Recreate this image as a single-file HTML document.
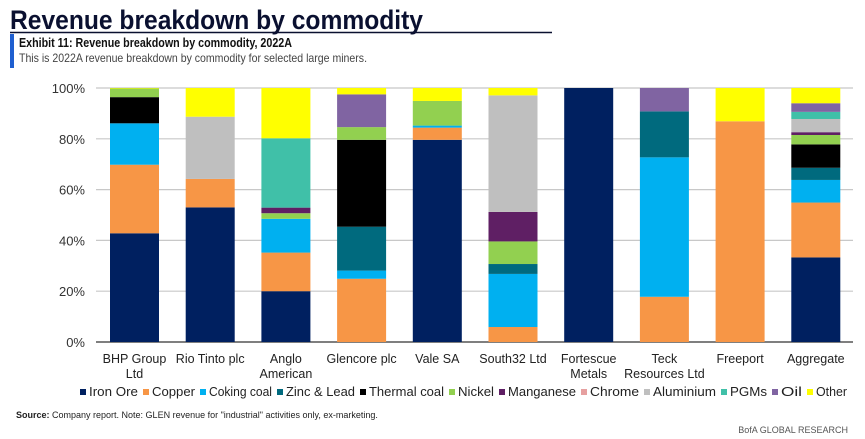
<!DOCTYPE html>
<html><head><meta charset="utf-8"><style>
body{margin:0;background:#fff;}
svg{display:block;font-family:"Liberation Sans",sans-serif;}
</style></head><body>
<svg id="c" width="865" height="439" viewBox="0 0 865 439">
<text x="10" y="29" font-size="27" font-weight="bold" fill="#0a1030" textLength="413" lengthAdjust="spacingAndGlyphs">Revenue breakdown by commodity</text>
<line x1="10" y1="32.5" x2="552" y2="32.5" stroke="#0a1030" stroke-width="1.5"/>
<rect x="10" y="34" width="4" height="34" fill="#1f5fd0"/>
<text x="19" y="47" font-size="12.5" font-weight="bold" fill="#111" textLength="273" lengthAdjust="spacingAndGlyphs">Exhibit 11: Revenue breakdown by commodity, 2022A</text>
<text x="19" y="62" font-size="12" fill="#444" textLength="348" lengthAdjust="spacingAndGlyphs">This is 2022A revenue breakdown by commodity for selected large miners.</text>
<g id="plot"></g>
<g id="legend"></g>
<text x="16" y="418" font-size="9" fill="#222"><tspan font-weight="bold">Source:</tspan> Company report. Note: GLEN revenue for "industrial" activities only, ex-marketing.</text>
<text x="848" y="433" font-size="9" fill="#555" text-anchor="end">BofA GLOBAL RESEARCH</text>
</svg>
<script>
const companies=[["BHP Group","Ltd"],["Rio Tinto plc"],["Anglo","American"],["Glencore plc"],["Vale SA"],["South32 Ltd"],["Fortescue","Metals"],["Teck","Resources Ltd"],["Freeport"],["Aggregate"]];
const commodities=["Iron Ore","Copper","Coking coal","Zinc & Lead","Thermal coal","Nickel","Manganese","Chrome","Aluminium","PGMs","Oil","Other"];
const colors=["#002060","#f79646","#00b0f0","#006a7e","#000000","#92d050","#5f1f64","#e6a0a0","#bfbfbf","#40c0a8","#8064a2","#ffff00"];
const ironOre=[42.8,53,20,0,79.6,0,100,0,0,33.3];
const copper=[27,11.2,15.2,24.9,4.8,5.9,0,17.8,86.9,21.6];
const cokingCoal=[16.3,0,13.3,3.2,0.8,20.9,0,54.9,0,8.9];
const zincLead=[0,0,0,17.3,0,3.9,0,18.1,0,4.8];
const thermalCoal=[10.3,0,0,34.2,0,0,0,0,0,9.2];
const nickel=[3.4,0,2.2,5,9.7,8.9,0,0,0,3.7];
const manganese=[0,0,2.2,0,0,11.6,0,0,0,1.1];
const chrome=[0,0,0,0,0,0,0,0,0,0];
const aluminium=[0,24.5,0,0,0,45.9,0,0,0,5.2];
const pgms=[0,0,27.3,0,0,0,0,0,0,2.8];
const oil=[0,0,0,12.9,0,0,0,9.2,0,3.4];
const other=[0.2,11.3,19.8,2.5,5.1,2.9,0,0,13.1,6];
const series=[ironOre,copper,cokingCoal,zincLead,thermalCoal,nickel,manganese,chrome,aluminium,pgms,oil,other];
const yTicks=[0,20,40,60,80,100];
const NS="http://www.w3.org/2000/svg";
const plot=document.getElementById('plot'),leg=document.getElementById('legend');
const y0=342,y1=88,xL=96,xR=853,x0=134.5,step=75.7,bw=49;
const Y=v=>y0-(v/100)*(y0-y1);
const X=i=>x0+i*step;
function mk(tag,a,p){const e=document.createElementNS(NS,tag);for(const k in a)e.setAttribute(k,a[k]);p.appendChild(e);return e;}
yTicks.forEach(t=>{
  const l=mk('line',{x1:xL,x2:xR,y1:Y(t),y2:Y(t),stroke:t===0?'#555':'#c8c8c8','stroke-width':t===0?1.5:1.2},plot);
  
  
  const tx=mk('text',{x:85,y:Y(t)+5,'font-size':13,fill:'#333','text-anchor':'end'},plot);
  tx.textContent=t+'%';
  
  
});
companies.forEach((c,i)=>{
  let cum=0;
  series.forEach((s,k)=>{
    const v=s[i];if(!v)return;
    const r=mk('rect',{x:X(i)-bw/2,y:Y(cum+v),width:bw,height:Y(cum)-Y(cum+v),fill:colors[k]},plot);
    
    
    cum+=v;
  });
  c.forEach((line,j)=>{
    const t=mk('text',{x:X(i),y:363+j*15,'font-size':12.5,fill:'#222','text-anchor':'middle'},plot);
    t.textContent=line;
    
    
  });
});
const lx=[80,143,200,277,360,449,499,581,644,721,772,807,852];
commodities.forEach((n,k)=>{
  const g=mk('g',{},leg);
  
  
  mk('rect',{x:lx[k],y:389,width:6,height:6,fill:colors[k]},g);
  const t=mk('text',{x:lx[k]+9,y:396,'font-size':12.5,fill:'#222',textLength:lx[k+1]-lx[k]-14,lengthAdjust:'spacingAndGlyphs'},g);
  t.textContent=n;
});
</script>
</body></html>
